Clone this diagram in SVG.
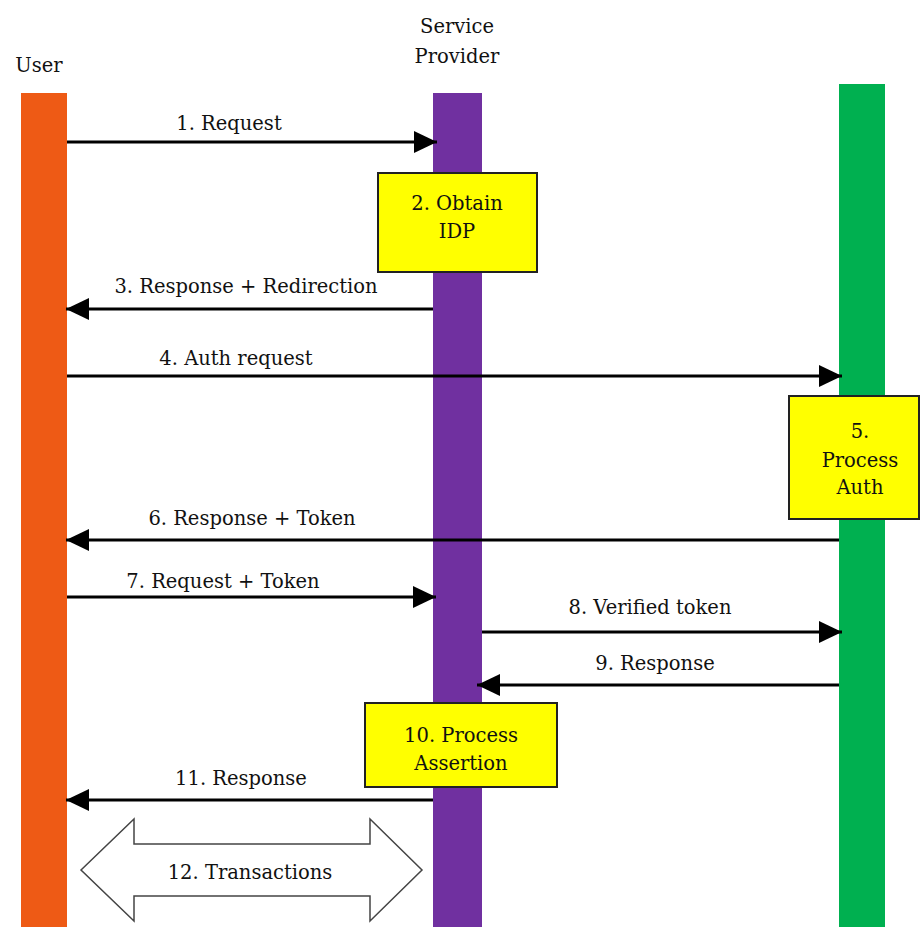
<svg xmlns="http://www.w3.org/2000/svg" width="920" height="927" viewBox="0 0 920 927">
<defs>
<marker id="ah" viewBox="0 0 23 22" refX="23" refY="11" markerWidth="23" markerHeight="22" markerUnits="userSpaceOnUse" orient="auto">
<path d="M0,0 L23,11 L0,22 z" fill="#000"/>
</marker>
<style>
text{font-family:"DejaVu Serif","Liberation Serif",serif;font-size:19.5px;fill:#111;text-anchor:middle}
.msg{stroke:#000;stroke-width:3;fill:none;marker-end:url(#ah)}
.box{fill:#FFFF00;stroke:#222;stroke-width:2}
</style>
</defs>
<rect width="920" height="927" fill="#fff"/>
<g id="user">
<rect x="21" y="93" width="46" height="834" fill="#EE5A15"/>
<text x="39" y="72">User</text>
</g>
<g id="service-provider">
<rect x="433" y="93" width="49" height="834" fill="#7030A0"/>
<text x="457" y="33">Service</text>
<text x="457" y="63">Provider</text>
</g>
<g id="idp">
<rect x="839" y="84" width="46" height="843" fill="#00B050"/>
</g>
<g id="connectors">
<line class="msg" x1="67" y1="142" x2="437" y2="142"/>
<line class="msg" x1="433" y1="309" x2="66" y2="309"/>
<line class="msg" x1="67" y1="376" x2="842" y2="376"/>
<line class="msg" x1="839" y1="540" x2="66" y2="540"/>
<line class="msg" x1="67" y1="597" x2="436" y2="597"/>
<line class="msg" x1="482" y1="632" x2="842" y2="632"/>
<line class="msg" x1="839" y1="685" x2="477" y2="685"/>
<line class="msg" x1="433" y1="800" x2="66" y2="800"/>
<polygon points="81,870 134,819 134,844 370,844 370,819 422,870 370,921 370,896 134,896 134,921" fill="#fff" stroke="#444" stroke-width="1.5"/>
</g>
<g id="labels">
<text x="229" y="130">1. Request</text>
<text x="246" y="293">3. Response + Redirection</text>
<text x="236" y="365">4. Auth request</text>
<text x="252" y="525">6. Response + Token</text>
<text x="223" y="588">7. Request + Token</text>
<text x="650" y="614">8. Verified token</text>
<text x="655" y="670">9. Response</text>
<text x="241" y="785">11. Response</text>
<text x="250" y="879">12. Transactions</text>
</g>
<g id="step2">
<rect class="box" x="378" y="173" width="159" height="99"/>
<text x="457" y="210">2. Obtain</text>
<text x="457" y="238">IDP</text>
</g>
<g id="step5">
<rect class="box" x="789" y="396" width="130" height="123"/>
<text x="860" y="438">5.</text>
<text x="860" y="467">Process</text>
<text x="860" y="494">Auth</text>
</g>
<g id="step10">
<rect class="box" x="365" y="703" width="192" height="84"/>
<text x="461" y="742">10. Process</text>
<text x="461" y="770">Assertion</text>
</g>
</svg>
